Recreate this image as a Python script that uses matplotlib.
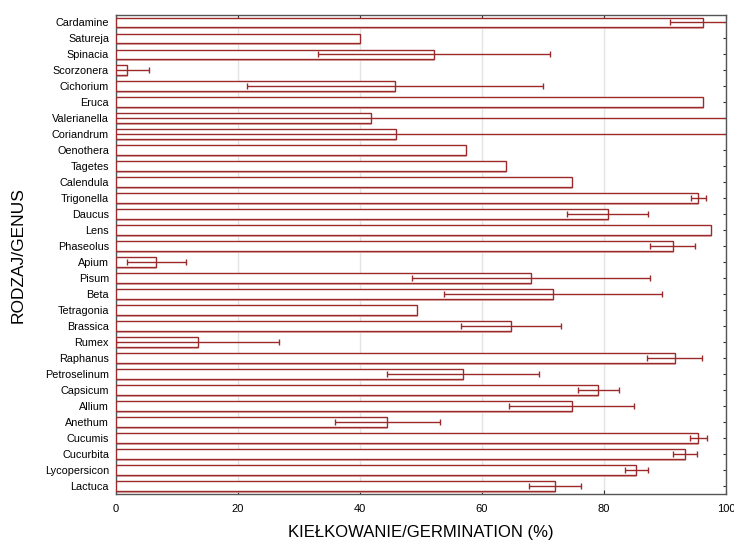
import numpy as np
import matplotlib.pyplot as plt

# genus names, top to bottom as in the figure
genus = ['Cardamine', 'Satureja', 'Spinacia', 'Scorzonera', 'Cichorium', 'Eruca',
         'Valerianella', 'Coriandrum', 'Oenothera', 'Tagetes', 'Calendula',
         'Trigonella', 'Daucus', 'Lens', 'Phaseolus', 'Apium', 'Pisum', 'Beta',
         'Tetragonia', 'Brassica', 'Rumex', 'Raphanus', 'Petroselinum', 'Capsicum',
         'Allium', 'Anethum', 'Cucumis', 'Cucurbita', 'Lycopersicon', 'Lactuca']
# mean germination (%)
mean = [96.2, 40.0, 52.2, 1.8, 45.7, 96.2, 41.8, 45.9, 57.4, 64.0, 74.8,
        95.5, 80.6, 97.5, 91.3, 6.6, 68.0, 71.7, 49.3, 64.7, 13.4, 91.6,
        56.9, 79.1, 74.7, 44.5, 95.5, 93.3, 85.3, 72.0]
# error (half-width of whisker), 0 = no whisker
err = [5.4, 0, 19.0, 3.6, 24.3, 0, 75.0, 75.0, 0, 0, 0,
       1.3, 6.6, 0, 3.7, 4.8, 19.5, 17.9, 0, 8.2, 13.4, 4.5,
       12.4, 3.4, 10.3, 8.6, 1.4, 2.0, 1.9, 4.3]

dark = '#9c2a2a'
pink = '#d9a3a3'
fam = ['Liberation Sans Narrow', 'Liberation Sans', 'DejaVu Sans']

n = len(genus)
y = np.arange(n)[::-1]

fig = plt.figure(figsize=(7.34, 5.4), dpi=100)
ax = fig.add_axes([0.158, 0.085, 0.831, 0.887])

ax.grid(axis='x', color='#e4e4e4', lw=1, zorder=0)
# light shadow under each bar, then the outlined bar
ax.barh(y - 0.08, mean, height=0.6, color='none', edgecolor=pink, lw=1.2, zorder=2)
ax.barh(y, mean, height=0.6, color='white', edgecolor=dark, lw=1, zorder=3)
e = np.array(err, dtype=float)
m = e > 0
ax.errorbar(np.array(mean)[m], y[m], xerr=e[m], fmt='none', ecolor=dark,
            elinewidth=1, capsize=2.5, capthick=1, zorder=4)

ax.set_xlim(0, 100)
ax.set_ylim(-0.5, n - 0.55)
ax.set_xticks([0, 20, 40, 60, 80, 100])
ax.set_yticks(y)
ax.set_yticklabels(genus, fontsize=7.8, family=fam)
for t in ax.get_xticklabels():
    t.set_fontsize(8)
    t.set_family(fam)
ax.tick_params(axis='x', direction='in', top=True, length=3, pad=7, color='#333333')
ax.tick_params(axis='y', direction='in', right=True, length=2, pad=5, color='#333333')
for s in ax.spines.values():
    s.set_color('#555555')
    s.set_linewidth(1)

ax.set_xlabel('KIEŁKOWANIE/GERMINATION (%)', fontsize=12,
              family=['Liberation Sans', 'DejaVu Sans'], labelpad=8)
ax.set_ylabel('RODZAJ/GENUS', fontsize=12.5,
              family=['Liberation Sans', 'DejaVu Sans'], labelpad=14)

fig.savefig('out.png', dpi=100)
